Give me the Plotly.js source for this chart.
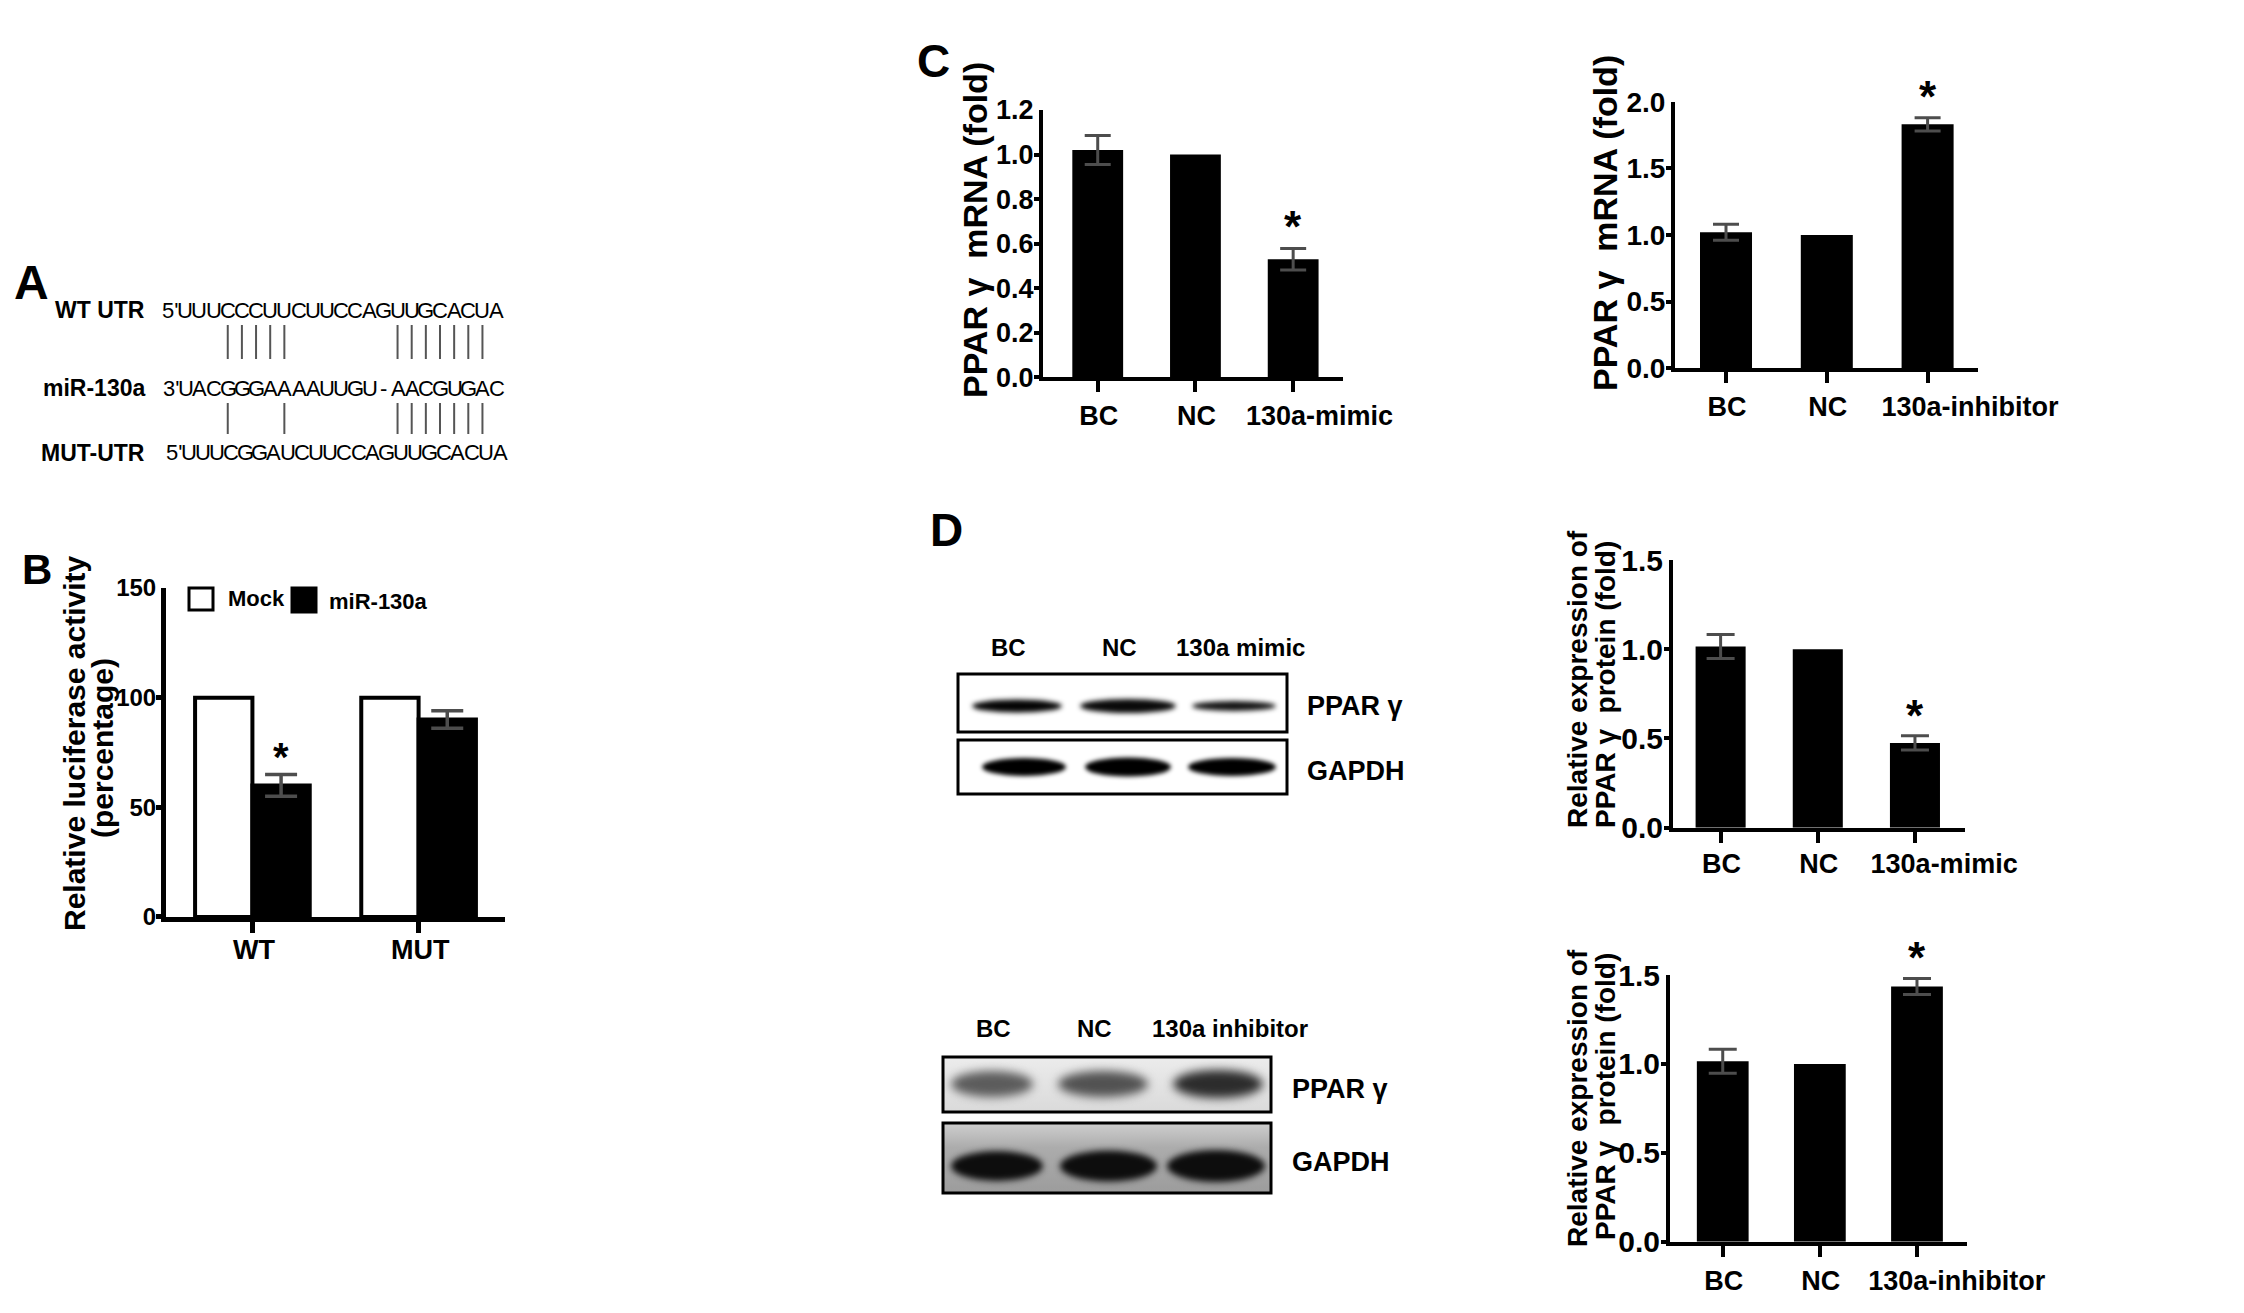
<!DOCTYPE html>
<html><head><meta charset="utf-8">
<script src="https://cdn.plot.ly/plotly-3.0.1.min.js"></script>
<style>html,body{margin:0;padding:0;background:#fff}#chart{width:2244px;height:1313px}</style>
</head><body><div id="chart"></div>
<script>
// ================= DATA =================
// Panel A – sequence alignment
const seqWTprefix = "5'";
const seqWT  = "UUUCCCUUCUUCCAGUUGCACUA";
const seqMiRprefix = "3'";
const seqMiR = "UACGGGAAAAUUGU-AACGUGAC";
const seqMUTprefix = "5'";
const seqMUT = "UUUCGGAUCUUCCAGUUGCACUA";
const rowLabels = ["WT UTR", "miR-130a", "MUT-UTR"];
const pairsWT  = [3,4,5,6,7,15,16,17,18,19,20,21];
const pairsMUT = [3,7,15,16,17,18,19,20,21];

// Panel B – luciferase
const bCategories = ["WT", "MUT"];
const bSeries = ["Mock", "miR-130a"];
const bMock = [100, 100];
const bMiR = [60, 90];
const bMiRErr = [5, 4];
const bMiRSig = [true, false];

// Panel C – mRNA
const cMimicCats = ["BC", "NC", "130a-mimic"];
const cMimicVals = [1.02, 1.00, 0.53];
const cMimicErr  = [0.065, NaN, 0.048];
const cMimicSig  = [false, false, true];
const cInhCats = ["BC", "NC", "130a-inhibitor"];
const cInhVals = [1.02, 1.00, 1.83];
const cInhErr  = [0.06, NaN, 0.05];
const cInhSig  = [false, false, true];

// Panel D – protein
const dMimicCats = ["BC", "NC", "130a-mimic"];
const dMimicVals = [1.015, 1.00, 0.475];
const dMimicErr  = [0.067, NaN, 0.04];
const dMimicSig  = [false, false, true];
const dInhCats = ["BC", "NC", "130a-inhibitor"];
const dInhVals = [1.015, 1.00, 1.435];
const dInhErr  = [0.067, NaN, 0.045];
const dInhSig  = [false, false, true];
const blotMimicLanes = ["BC", "NC", "130a mimic"];
const blotInhLanes = ["BC", "NC", "130a inhibitor"];
const blotRows = ["PPAR γ", "GAPDH"];

// ================= LAYOUT HELPERS =================
const W = 2244, H = 1313;
const FONT = "Liberation Sans, Arial, Helvetica, sans-serif";
const px = x => x / W;
const py = y => 1 - y / H;
const idx = arr => arr.map((c, i) => i);   // category positions on the x axes

const annotations = [];
const shapes = [];
const images = [];

function txt(text, x, y, size, opts) {
  annotations.push(Object.assign({
    text: text, x: px(x), y: py(y), xref: 'paper', yref: 'paper',
    showarrow: false, xanchor: 'center', yanchor: 'middle',
    font: {family: FONT, size: size, color: '#000', weight: 'bold'}
  }, opts || {}));
}

// ================= PANEL A =================
const gridX0 = 185.3, pitch = 14.15, SEQ_SIZE = 22;
function seqRow(prefix, seq, y, shift) {
  const f = {family: FONT, size: SEQ_SIZE, color: '#000'};
  txt(prefix, gridX0 - 5 + shift, y, SEQ_SIZE, {xanchor: 'right', font: f});
  for (let k = 0; k < seq.length; k++) {
    txt(seq[k], gridX0 + k * pitch + shift, y, SEQ_SIZE, {font: f});
  }
}
const rowY = [310, 388, 453];
seqRow(seqWTprefix, seqWT, rowY[0], 0);
seqRow(seqMiRprefix, seqMiR, rowY[1], 0.5);
seqRow(seqMUTprefix, seqMUT, rowY[2], 3.5);
rowLabels.forEach((l, i) => txt(l, 147, rowY[i], 23, {xanchor: 'right'}));
pairsWT.forEach(k => shapes.push({type: 'line', xref: 'paper', yref: 'paper',
  x0: px(gridX0 + k * pitch), x1: px(gridX0 + k * pitch), y0: py(325), y1: py(359),
  line: {color: '#555', width: 2}}));
pairsMUT.forEach(k => shapes.push({type: 'line', xref: 'paper', yref: 'paper',
  x0: px(gridX0 + k * pitch), x1: px(gridX0 + k * pitch), y0: py(403), y1: py(434),
  line: {color: '#555', width: 2}}));

// Panel letters
txt("A", 31, 282, 48);
txt("B", 37, 569, 42);
txt("C", 933, 61, 46);
txt("D", 946, 530, 46);

// ================= AXES =================
// x axes: tick marks are minor ticks at each category; the labels are major ticks
// (long labels sit to the right of their tick mark, as in the original figure).
// y axes: labels are major ticks (no mark, so they hug the axis); marks are minor ticks.
const layout = {
  width: W, height: H, margin: {l: 0, r: 0, t: 0, b: 0, pad: 0},
  paper_bgcolor: '#fff', plot_bgcolor: 'rgba(0,0,0,0)', showlegend: false, barmode: 'overlay',
  annotations: annotations, shapes: shapes, images: images
};
function subplot(n, xd, yd, xr, yr, dtick, fmt, cats, labelShift, standoff, ysize, lw) {
  const s = n === 1 ? '' : String(n);
  const w = lw || 4;
  layout['xaxis' + s] = {domain: [px(xd[0]), px(xd[1])], range: xr, type: 'linear', anchor: 'y' + s,
    tickmode: 'array', tickvals: cats.map((c, i) => i + (c.length > 6 ? labelShift : 0.01)), ticktext: cats,
    tickangle: 0, ticks: '', ticklabelstandoff: standoff,
    minor: {tick0: 0, dtick: 1, ticks: 'outside', ticklen: 11, tickwidth: w, tickcolor: '#000', showgrid: false},
    showline: true, linecolor: '#000', linewidth: w, showgrid: false, zeroline: false, fixedrange: true,
    tickfont: {family: FONT, size: 27, color: '#000', weight: 'bold'}};
  layout['yaxis' + s] = {domain: [py(yd[1]), py(yd[0])], range: yr, dtick: dtick, tick0: 0, tickformat: fmt,
    anchor: 'x' + s, showline: true, linecolor: '#000', linewidth: w, ticks: '',
    minor: {tick0: dtick * 0.001, dtick: dtick, ticks: 'outside', ticklen: 5, tickwidth: w, tickcolor: '#000', showgrid: false},
    showgrid: false, zeroline: false, fixedrange: true,
    tickfont: {family: FONT, size: ysize, color: '#000', weight: 'bold'}};
}
subplot(1, [166, 505], [588, 917], [-0.52, 1.52], [0, 150], 50, 'd', bCategories, 0, 5, 24, 5);
subplot(2, [1043, 1343], [110, 377.3], [-0.56, 2.51], [0, 1.2], 0.2, '.1f', cMimicCats, 0.27, 11, 27);
subplot(3, [1675, 1978], [101.7, 368.3], [-0.506, 2.5], [0, 2.0], 0.5, '.1f', cInhCats, 0.42, 11, 28);
subplot(4, [1673, 1965], [560, 827.7], [-0.49, 2.515], [0, 1.5], 0.5, '.1f', dMimicCats, 0.3, 9, 30);
subplot(5, [1670, 1967], [975, 1241.7], [-0.543, 2.515], [0, 1.5], 0.5, '.1f', dInhCats, 0.41, 12, 30);

// ================= TRACES =================
const errStyle = (arr, w) => ({type: 'data', array: arr, visible: true, color: '#4d4d4d', thickness: 3, width: w});
const traces = [
  {type: 'bar', name: bSeries[0], x: idx(bCategories), y: bMock, text: bCategories, xaxis: 'x', yaxis: 'y',
   offset: -0.345, width: 0.345, textposition: 'none', marker: {color: '#fff', line: {color: '#000', width: 4}}},
  {type: 'bar', name: bSeries[1], x: idx(bCategories), y: bMiR, text: bCategories, xaxis: 'x', yaxis: 'y',
   offset: 0, width: 0.345, textposition: 'none', marker: {color: '#000', line: {color: '#000', width: 4}},
   error_y: Object.assign(errStyle(bMiRErr, 16), {thickness: 3.5})},
  {type: 'bar', name: 'PPARγ mRNA (mimic)', x: idx(cMimicCats), y: cMimicVals, text: cMimicCats, textposition: 'none',
   xaxis: 'x2', yaxis: 'y2', width: 0.52, marker: {color: '#000'}, error_y: errStyle(cMimicErr, 13)},
  {type: 'bar', name: 'PPARγ mRNA (inhibitor)', x: idx(cInhCats), y: cInhVals, text: cInhCats, textposition: 'none',
   xaxis: 'x3', yaxis: 'y3', width: 0.516, marker: {color: '#000'}, error_y: errStyle(cInhErr, 13)},
  {type: 'bar', name: 'PPARγ protein (mimic)', x: idx(dMimicCats), y: dMimicVals, text: dMimicCats, textposition: 'none',
   xaxis: 'x4', yaxis: 'y4', width: 0.515, marker: {color: '#000'}, error_y: errStyle(dMimicErr, 14)},
  {type: 'bar', name: 'PPARγ protein (inhibitor)', x: idx(dInhCats), y: dInhVals, text: dInhCats, textposition: 'none',
   xaxis: 'x5', yaxis: 'y5', width: 0.533, marker: {color: '#000'}, error_y: errStyle(dInhErr, 14)}
];

// significance stars, positioned from the data
function stars(sig, vals, err, xr, yr, offset, size, shift) {
  sig.forEach((s, i) => {
    if (!s) return;
    annotations.push({text: '*', xref: xr, yref: yr, x: i + (offset || 0), y: vals[i] + err[i],
      yshift: shift, showarrow: false, xanchor: 'center', yanchor: 'middle',
      font: {family: FONT, size: size, color: '#000', weight: 'bold'}});
  });
}
stars(bMiRSig, bMiR, bMiRErr, 'x', 'y', 0.1725, 40, 17);
stars(cMimicSig, cMimicVals, cMimicErr, 'x2', 'y2', 0, 44, 22);
stars(cInhSig, cInhVals, cInhErr, 'x3', 'y3', 0, 44, 21);
stars(dMimicSig, dMimicVals, dMimicErr, 'x4', 'y4', 0, 44, 20);
stars(dInhSig, dInhVals, dInhErr, 'x5', 'y5', 0, 44, 21);

// y-axis titles
txt("Relative luciferase activity", 74, 743, 30, {textangle: -90});
txt("(percentage)", 102, 748, 30, {textangle: -90});
txt("PPAR γ\u00a0 mRNA (fold)", 975, 230, 34, {textangle: -90});
txt("PPAR γ\u00a0 mRNA (fold)", 1605, 223, 34, {textangle: -90});
txt("Relative expression of", 1577, 679, 28, {textangle: -90});
txt("PPAR γ\u00a0 protein (fold)", 1605, 685, 28, {textangle: -90});
txt("Relative expression of", 1577, 1098, 28, {textangle: -90});
txt("PPAR γ\u00a0 protein (fold)", 1605, 1097, 28, {textangle: -90});

// Panel B legend
shapes.push({type: 'rect', xref: 'paper', yref: 'paper', x0: px(189), x1: px(213), y0: py(588), y1: py(610),
  fillcolor: '#fff', line: {color: '#000', width: 3}});
shapes.push({type: 'rect', xref: 'paper', yref: 'paper', x0: px(292), x1: px(316), y0: py(588), y1: py(612),
  fillcolor: '#000', line: {color: '#000', width: 3}});
txt(bSeries[0], 226, 598, 22, {xanchor: 'left'});
txt(bSeries[1], 327, 601, 22, {xanchor: 'left'});

// ================= WESTERN BLOTS =================
function blotImage(w, h, bgStops, bands) {
  const c = document.createElement('canvas');
  c.width = w; c.height = h;
  const g = c.getContext('2d');
  const grad = g.createLinearGradient(0, 0, 0, h);
  bgStops.forEach(s => grad.addColorStop(s[0], s[1]));
  g.fillStyle = grad; g.fillRect(0, 0, w, h);
  bands.forEach(b => {
    g.save();
    g.filter = 'blur(' + b[5] + 'px)';
    g.fillStyle = b[4];
    g.beginPath();
    g.ellipse((b[0] + b[1]) / 2, b[2], (b[1] - b[0]) / 2, b[3] / 2, 0, 0, Math.PI * 2);
    g.fill();
    g.restore();
  });
  return c.toDataURL('image/png');
}
function addBlot(x, y, w, h, bg, bands, lw) {
  images.push({source: blotImage(w, h, bg, bands), xref: 'paper', yref: 'paper',
    x: px(x), y: py(y), sizex: w / W, sizey: h / H, sizing: 'stretch',
    xanchor: 'left', yanchor: 'top', layer: 'below'});
  shapes.push({type: 'rect', xref: 'paper', yref: 'paper', x0: px(x), x1: px(x + w), y0: py(y), y1: py(y + h),
    line: {color: '#000', width: lw}, fillcolor: 'rgba(0,0,0,0)'});
}
const whiteBg = [[0, '#ffffff'], [1, '#ffffff']];
// mimic blot
addBlot(958, 674, 329, 58, whiteBg,
  [[14, 104, 32, 13, '#050505', 2.5], [122, 218, 32, 14, '#0a0a0a', 2.5], [234, 318, 32, 10, '#141414', 2.5]], 3);
addBlot(958, 740, 329, 54, whiteBg,
  [[24, 108, 27, 18, '#000', 2], [127, 213, 27, 19, '#000', 2], [230, 318, 27, 18, '#000', 2]], 3);
blotMimicLanes.forEach((l, i) => txt(l, [1008, 1119.5, 1240][i], 647, 24));
txt(blotRows[0], 1305, 706, 27, {xanchor: 'left'});
txt(blotRows[1], 1305, 771, 27, {xanchor: 'left'});
// inhibitor blot
addBlot(943, 1057, 328, 55, [[0, '#ececec'], [1, '#dadada']],
  [[8, 90, 27, 26, '#5c5c5c', 5], [115, 205, 27, 26, '#525252', 5], [230, 320, 27, 28, '#2c2c2c', 5]], 3);
addBlot(943, 1123, 328, 70, [[0, '#cfcfcf'], [0.35, '#acacac'], [1, '#9c9c9c']],
  [[8, 100, 43, 30, '#0d0d0d', 3], [117, 214, 43, 31, '#0d0d0d', 3], [224, 322, 43, 32, '#0d0d0d', 3]], 3);
blotInhLanes.forEach((l, i) => txt(l, [993, 1094, 1230][i], 1028, 24));
txt(blotRows[0], 1290, 1089, 27, {xanchor: 'left'});
txt(blotRows[1], 1290, 1162, 27, {xanchor: 'left'});

Plotly.newPlot('chart', traces, layout, {displayModeBar: false, responsive: false});
</script>
</body></html>
